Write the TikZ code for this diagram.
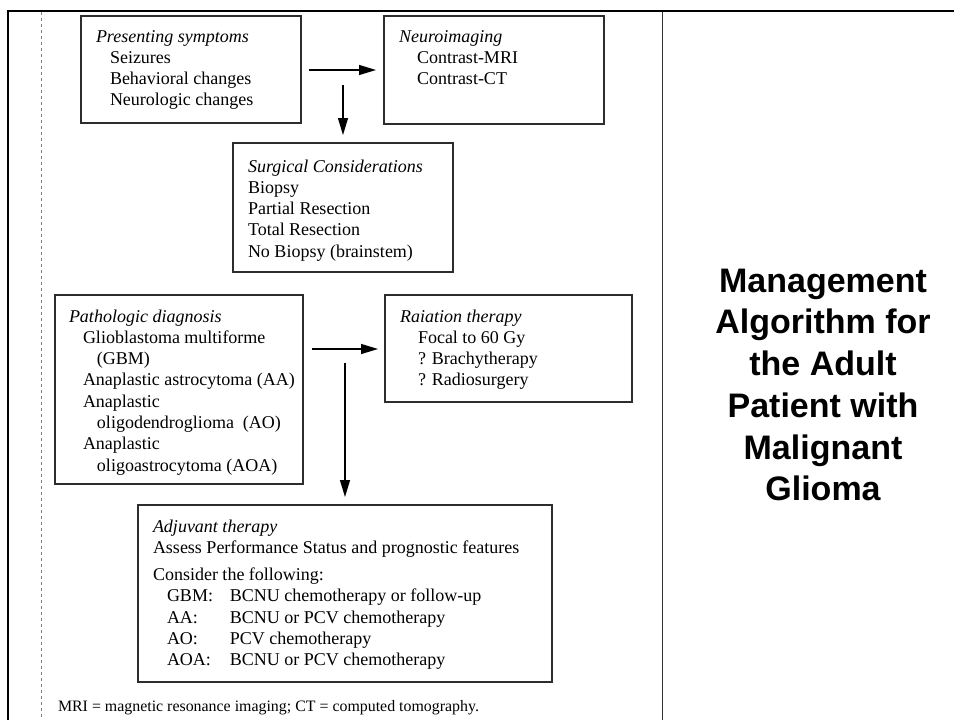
\documentclass[tikz,border=0pt]{standalone}
\usepackage{fontspec}
\setmainfont{Liberation Serif}
\newfontfamily\headfont{Liberation Sans}
\definecolor{boxline}{RGB}{45, 45, 45}
\usetikzlibrary{arrows.meta}
\tikzset{
    every node/.style={inner sep=0pt, outer sep=0pt},
    flowbox/.style={draw=boxline, line width=1.3pt, anchor=north west},
    boxtext/.style={anchor=base west, font=\fontsize{18}{21.3}\selectfont},
    flowarrow/.style={line width=1.2pt, -{Triangle[length=17pt, width=10pt]}},
}
\newcommand{\ind}[1]{\hspace*{#1pt}}

\begin{document}
\begin{tikzpicture}[x=1pt, y=-1pt]
    \useasboundingbox (0, 0) rectangle (954, 720);
    % page frame
    \draw[line width=2.2pt] (7, 11) -- (954, 11);
    \draw[line width=2.6pt] (8, 10) -- (8, 720);
    \draw[line width=0.8pt, gray, dashed] (41, 12) -- (41, 720);
    \draw[line width=1pt, black!80] (662, 12) -- (662, 720);
    % boxes
    \node[flowbox, minimum width=220pt, minimum height=107pt] (sympt) at (81, 16) {};
    \node[flowbox, minimum width=220pt, minimum height=108pt] (imaging) at (384, 16) {};
    \node[flowbox, minimum width=220pt, minimum height=129pt] (surgery) at (233, 143) {};
    \node[flowbox, minimum width=248pt, minimum height=189pt] (patho) at (55, 295) {};
    \node[flowbox, minimum width=247pt, minimum height=107pt] (radio) at (385, 295) {};
    \node[flowbox, minimum width=414pt, minimum height=177pt] (adjuv) at (138, 505) {};
    % box texts
    \node[boxtext] (sympttext) at (96, 42) {\begin{tabular}[t]{@{}l@{}}
        \textit{Presenting symptoms}\\
        \ind{14}Seizures\\
        \ind{14}Behavioral changes\\
        \ind{14}Neurologic changes
    \end{tabular}};
    \node[boxtext] (imagingtext) at (399, 42) {\begin{tabular}[t]{@{}l@{}}
        \textit{Neuroimaging}\\
        \ind{18}Contrast-MRI\\
        \ind{18}Contrast-CT
    \end{tabular}};
    \node[boxtext] (surgerytext) at (248, 172) {\begin{tabular}[t]{@{}l@{}}
        \textit{Surgical Considerations}\\
        Biopsy\\
        Partial Resection\\
        Total Resection\\
        No Biopsy (brainstem)
    \end{tabular}};
    \node[boxtext] (pathotext) at (69, 322) {\begin{tabular}[t]{@{}l@{}}
        \textit{Pathologic diagnosis}\\
        \ind{14}Glioblastoma multiforme\\
        \ind{28}(GBM)\\
        \ind{14}Anaplastic astrocytoma (AA)\\
        \ind{14}Anaplastic\\
        \ind{28}oligodendroglioma\ \ (AO)\\
        \ind{14}Anaplastic\\
        \ind{28}oligoastrocytoma (AOA)
    \end{tabular}};
    \node[boxtext] (radiotext) at (400, 322) {\begin{tabular}[t]{@{}l@{}}
        \textit{Raiation therapy}\\
        \ind{18}Focal to 60 Gy\\
        \ind{18}? Brachytherapy\\
        \ind{18}? Radiosurgery
    \end{tabular}};
    \node[boxtext] (adjuvtext) at (153, 532) {\begin{tabular}[t]{@{}l@{}}
        \textit{Adjuvant therapy}\\
        Assess Performance Status and prognostic features\\[6pt]
        Consider the following:\\
        \ind{14}\makebox[63pt][l]{GBM:}BCNU chemotherapy or follow-up\\
        \ind{14}\makebox[63pt][l]{AA:}BCNU or PCV chemotherapy\\
        \ind{14}\makebox[63pt][l]{AO:}PCV chemotherapy\\
        \ind{14}\makebox[63pt][l]{AOA:}BCNU or PCV chemotherapy
    \end{tabular}};
    \node[anchor=base west, font=\fontsize{15.9}{18}\selectfont] (footnote)
        at (58, 711) {MRI = magnetic resonance imaging; CT = computed tomography.};
    % arrows
    \coordinate (symptout) at (309, 70);
    \coordinate (imagingin) at (376, 70);
    \coordinate (symptdown) at (343, 85);
    \coordinate (surgeryin) at (343, 135);
    \coordinate (pathoout) at (312, 349);
    \coordinate (radioin) at (378, 349);
    \coordinate (pathodown) at (345, 363);
    \coordinate (adjuvin) at (345, 497);
    \draw[flowarrow] (symptout) -- (imagingin);
    \draw[flowarrow] (symptdown) -- (surgeryin);
    \draw[flowarrow] (pathoout) -- (radioin);
    \draw[flowarrow] (pathodown) -- (adjuvin);
    % title
    \node[anchor=base, font=\headfont\bfseries\fontsize{34}{41.75}\selectfont]
        (title) at (823, 292) {\begin{tabular}[t]{@{}c@{}}
        Management\\ Algorithm for\\ the Adult\\ Patient with\\ Malignant\\ Glioma
    \end{tabular}};
\end{tikzpicture}
\end{document}
